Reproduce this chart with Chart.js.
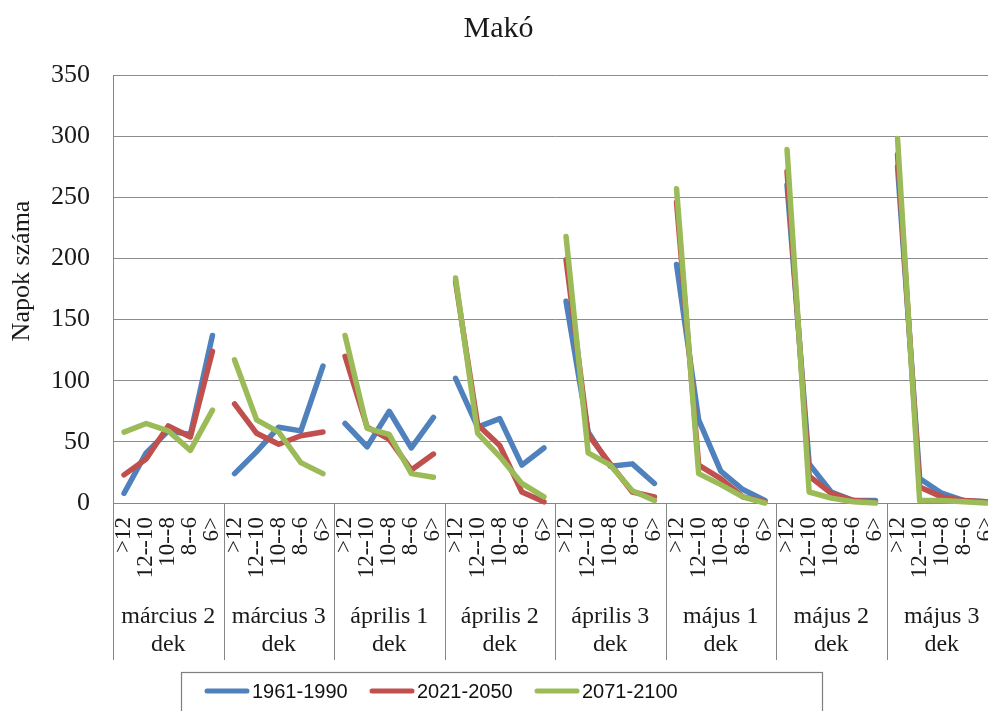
<!DOCTYPE html>
<html>
<head>
<meta charset="utf-8">
<script src="https://cdn.jsdelivr.net/npm/chart.js@4.4.1/dist/chart.umd.min.js"></script>
<style>
  html, body { margin: 0; padding: 0; background: #fff; overflow: hidden; }
  #wrap { width: 1000px; height: 711px; }
</style>
</head>
<body>
<div id="wrap"><canvas id="c" width="1000" height="711"></canvas></div>
<script>
// Temperature-class bins repeated inside every ten-day period
const bins = ['>12', '12--10', '10--8', '8--6', '6>'];
// Ten-day periods (two-line group labels under the bins)
const decades = [
  ['március 2', 'dek'], ['március 3', 'dek'], ['április 1', 'dek'], ['április 2', 'dek'],
  ['április 3', 'dek'], ['május 1', 'dek'], ['május 2', 'dek'], ['május 3', 'dek']
];
const seriesNames = ['1961-1990', '2021-2050', '2071-2100'];
const seriesColors = ['#4F81BD', '#C0504D', '#9BBB59'];

// Number of days per bin, period by period (5 values each)
const s1961 = [
  8, 41, 59, 56, 137,
  24, 42, 62, 59, 112,
  65, 46, 75, 45, 70,
  102, 62, 69, 31, 45,
  165, 58, 30, 32, 16,
  195, 68, 26, 11, 2,
  260, 32, 9, 2, 2,
  275, 20, 8, 2, 1
];
const s2021 = [
  23, 36, 63, 54, 124,
  81, 57, 48, 55, 58,
  120, 62, 52, 27, 40,
  181, 64, 47, 9, 1,
  199, 56, 32, 9, 5,
  246, 31, 20, 5, 1,
  271, 22, 8, 2, 1,
  285, 13, 5, 2, 1
];
const s2071 = [
  58, 65, 59, 43, 76,
  117, 68, 58, 33, 24,
  137, 61, 56, 24, 21,
  184, 57, 38, 16, 5,
  218, 41, 31, 10, 2,
  257, 24, 15, 5, 0,
  289, 9, 4, 1, 0,
  298, 2, 2, 1, 0
];
const yMin = 0, yMax = 350, yStep = 50;

const labels = [];
decades.forEach(() => bins.forEach(b => labels.push(b)));

const serif = '"Liberation Serif", "Times New Roman", serif';
const sans = '"Liberation Sans", Arial, sans-serif';

// break the line between consecutive periods
const gap = c => (c.p0DataIndex % bins.length === bins.length - 1 ? 'rgba(0,0,0,0)' : undefined);

const datasets = [s1961, s2021, s2071].map((d, i) => ({
  label: seriesNames[i],
  data: d,
  borderColor: seriesColors[i],
  backgroundColor: seriesColors[i],
  borderWidth: 5.5,
  borderCapStyle: 'round',
  borderJoinStyle: 'round',
  pointRadius: 0,
  tension: 0,
  clip: false,
  order: 2 - i,
  segment: { borderColor: gap }
}));

const decorations = {
  id: 'decorations',
  afterDraw(chart) {
    const ctx = chart.ctx;
    const x = chart.scales.x;
    const area = chart.chartArea;
    const n = bins.length;
    ctx.save();
    // period dividers running down through the label band
    ctx.strokeStyle = '#868686';
    ctx.lineWidth = 1;
    for (let g = 0; g <= decades.length; g++) {
      const i = g * n;
      let px;
      if (i === 0) px = area.left;
      else if (i >= labels.length) px = area.right;
      else px = (x.getPixelForValue(i - 1) + x.getPixelForValue(i)) / 2;
      px = Math.round(px) + 0.5;
      ctx.beginPath();
      ctx.moveTo(px, area.bottom);
      ctx.lineTo(px, x.bottom);
      ctx.stroke();
    }
    // period names
    ctx.fillStyle = '#1a1a1a';
    ctx.font = '24px ' + serif;
    ctx.textAlign = 'center';
    ctx.textBaseline = 'middle';
    decades.forEach((d, g) => {
      const cx = (x.getPixelForValue(g * n) + x.getPixelForValue(g * n + n - 1)) / 2;
      ctx.fillText(d[0], cx, 617);
      ctx.fillText(d[1], cx, 645);
    });
    // y axis title
    ctx.save();
    ctx.translate(22, 271);
    ctx.rotate(-Math.PI / 2);
    ctx.font = '26px ' + serif;
    ctx.fillText('Napok száma', 0, 0);
    ctx.restore();
    // legend
    ctx.strokeStyle = '#7f7f7f';
    ctx.lineWidth = 1.2;
    ctx.strokeRect(181.5, 672.5, 641, 60);
    ctx.font = '20px ' + sans;
    ctx.textAlign = 'left';
    ctx.textBaseline = 'middle';
    chart.data.datasets.forEach((ds, i) => {
      const lx = 205 + i * 165;
      ctx.strokeStyle = ds.borderColor;
      ctx.lineWidth = 5;
      ctx.lineCap = 'round';
      ctx.beginPath();
      ctx.moveTo(lx + 2, 691);
      ctx.lineTo(lx + 42, 691);
      ctx.stroke();
      ctx.fillStyle = '#111';
      ctx.fillText(ds.label, lx + 47, 692);
    });
    ctx.restore();
  }
};

new Chart(document.getElementById('c'), {
  type: 'line',
  data: { labels, datasets },
  options: {
    responsive: false,
    devicePixelRatio: 1,
    animation: false,
    layout: { padding: { left: 0, right: 3, top: 0, bottom: 51 } },
    plugins: {
      legend: { display: false },
      tooltip: { enabled: false },
      title: {
        display: true,
        text: 'Makó',
        color: '#1a1a1a',
        font: { family: serif, size: 30, weight: 'normal' },
        padding: { top: 11, bottom: 28 }
      }
    },
    scales: {
      x: {
        type: 'category',
        offset: true,
        grid: { display: false, drawTicks: false },
        border: { display: true, color: '#868686', width: 1 },
        ticks: {
          autoSkip: false,
          maxRotation: 90,
          minRotation: 90,
          padding: 14,
          color: '#1a1a1a',
          font: { family: serif, size: 23 }
        },
        afterFit(scale) {
          scale.height = 157;
          scale.paddingLeft = 0;
          scale.paddingRight = 0;
        }
      },
      y: {
        min: yMin,
        max: yMax,
        ticks: {
          stepSize: yStep,
          padding: 23,
          color: '#1a1a1a',
          font: { family: serif, size: 26 }
        },
        grid: { color: '#8c8c8c', lineWidth: 1, drawTicks: false },
        border: { display: true, color: '#868686', width: 1 },
        afterFit(scale) {
          scale.width = 113;
          scale.paddingTop = 0;
          scale.paddingBottom = 0;
        }
      }
    }
  },
  plugins: [decorations]
});
</script>
</body>
</html>
